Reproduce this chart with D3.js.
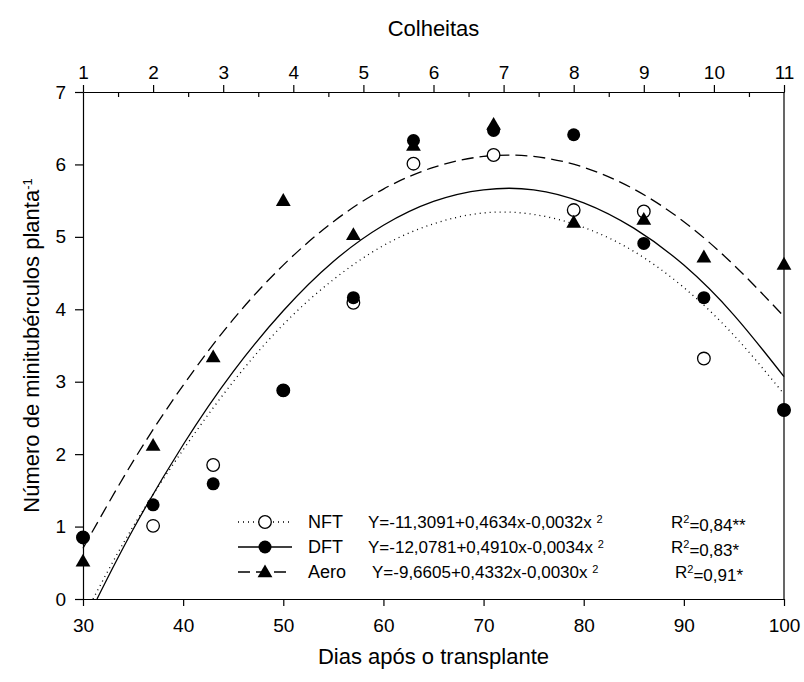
<!DOCTYPE html>
<html>
<head>
<meta charset="utf-8">
<script src="https://cdn.jsdelivr.net/npm/d3@7"></script>
<style>
  body { margin: 0; background: #fff; }
  svg { font-family: "Liberation Sans", Arial, sans-serif; }
  .axis path, .axis line { stroke: #000; stroke-width: 1.2px; }
  .axis text { fill: #000; }
</style>
</head>
<body>
<div id="chart"></div>
<script>
// measured points (dias após o transplante)
var days = [30, 37, 43, 50, 57, 63, 71, 79, 86, 92, 100];
var nftValues  = [0.85, 1.01, 1.85, 2.88, 4.09, 6.01, 6.13, 5.37, 5.35, 3.32, 2.61];
var dftValues  = [0.85, 1.30, 1.59, 2.88, 4.16, 6.33, 6.47, 6.41, 4.91, 4.16, 2.61];
var aeroValues = [0.52, 2.12, 3.34, 5.50, 5.03, 6.26, 6.55, 5.20, 5.24, 4.72, 4.62];

// fitted curves
var nftCurveX  = [31.0, 35, 40, 45, 50, 55, 60, 65, 70, 75, 80, 85, 90, 95, 100];
var nftCurveY  = [0, 1.00, 2.06, 3.00, 3.79, 4.41, 4.88, 5.18, 5.33, 5.31, 5.13, 4.80, 4.30, 3.64, 2.83];
var dftCurveX  = [31.4, 35, 40, 45, 50, 55, 60, 65, 70, 75, 80, 85, 90, 95, 100];
var dftCurveY  = [0, 0.96, 2.13, 3.14, 3.98, 4.66, 5.16, 5.49, 5.65, 5.65, 5.47, 5.12, 4.61, 3.92, 3.07];
var aeroCurveX = [30, 35, 40, 45, 50, 55, 60, 65, 70, 75, 80, 85, 90, 95, 100];
var aeroCurveY = [0.70, 1.90, 2.95, 3.86, 4.61, 5.21, 5.66, 5.96, 6.11, 6.11, 5.96, 5.66, 5.21, 4.61, 3.90];

var xTicks = [30, 40, 50, 60, 70, 80, 90, 100];
var yTicks = [0, 1, 2, 3, 4, 5, 6, 7];
var colheitas = [1, 2, 3, 4, 5, 6, 7, 8, 9, 10, 11];
var colheitasMinor = [1.5, 2.5, 3.5, 4.5, 5.5, 6.5, 7.5, 8.5, 9.5, 10.5];

var seriesNames = ["NFT", "DFT", "Aero"];
var equations = ["Y=-11,3091+0,4634x-0,0032x", "Y=-12,0781+0,4910x-0,0034x", "Y=-9,6605+0,4332x-0,0030x"];
var r2Values = ["=0,84**", "=0,83*", "=0,91*"];

var W = 804, H = 682;
var margin = {top: 92, right: 20, bottom: 83, left: 83};
var w = W - margin.left - margin.right;
var h = H - margin.top - margin.bottom;

var svg = d3.select("#chart").append("svg")
    .attr("width", W)
    .attr("height", H);

var g = svg.append("g")
    .attr("transform", "translate(" + margin.left + "," + margin.top + ")");

var x = d3.scaleLinear().domain([30, 100]).range([0, w]);
var xTop = d3.scaleLinear().domain([1, 11]).range([0, w]);
var y = d3.scaleLinear().domain([0, 7]).range([h, 0]);

// axes
g.append("g").attr("class", "axis")
    .attr("transform", "translate(0," + h + ")")
    .call(d3.axisBottom(x).tickValues(xTicks).tickSize(7).tickPadding(13).tickSizeOuter(0))
    .selectAll("text").style("font-size", "19px");

g.append("g").attr("class", "axis")
    .call(d3.axisLeft(y).tickValues(yTicks).tickFormat(d3.format("d")).tickSize(8).tickPadding(9).tickSizeOuter(0))
    .selectAll("text").style("font-size", "19px");

g.append("g").attr("class", "axis")
    .call(d3.axisTop(xTop).tickValues(colheitas).tickFormat(d3.format("d")).tickSize(7).tickPadding(6).tickSizeOuter(0))
    .selectAll("text").style("font-size", "19px");

g.append("g").attr("class", "axis")
    .call(d3.axisTop(xTop).tickValues(colheitasMinor).tickSize(-5).tickFormat("").tickSizeOuter(0));

g.append("line")
    .attr("x1", w).attr("x2", w).attr("y1", 0).attr("y2", h)
    .style("stroke", "#000").style("stroke-width", "1.2px");

// fitted curves
var line = d3.line()
    .x(function(d) { return x(d[0]); })
    .y(function(d) { return y(d[1]); })
    .curve(d3.curveNatural);

var curves = [
    {xs: nftCurveX, ys: nftCurveY, dash: "1,4", width: 1.3},
    {xs: dftCurveX, ys: dftCurveY, dash: null, width: 1.3},
    {xs: aeroCurveX, ys: aeroCurveY, dash: "12,6", width: 1.3}
];

curves.forEach(function(c) {
    g.append("path")
        .datum(d3.zip(c.xs, c.ys))
        .attr("d", line)
        .style("fill", "none")
        .style("stroke", "#000")
        .style("stroke-width", c.width)
        .style("stroke-dasharray", c.dash);
});

// markers
var tri = d3.symbol().type(d3.symbolTriangle).size(95);

function drawMarker(sel, kind) {
    if (kind === "open") {
        sel.append("circle").attr("r", 6.3)
            .style("fill", "#fff").style("stroke", "#000").style("stroke-width", 1.3);
    } else if (kind === "filled") {
        sel.append("circle").attr("r", 6.5).style("fill", "#000");
    } else {
        sel.append("path").attr("d", tri).attr("transform", "translate(0,1)").style("fill", "#000");
    }
}

var pointSets = [
    {vals: nftValues, kind: "open"},
    {vals: dftValues, kind: "filled"},
    {vals: aeroValues, kind: "tri"}
];

pointSets.forEach(function(s) {
    g.selectAll(null)
        .data(d3.zip(days, s.vals))
        .enter().append("g")
        .attr("transform", function(d) { return "translate(" + x(d[0]) + "," + y(d[1]) + ")"; })
        .each(function() { drawMarker(d3.select(this), s.kind); });
});

// legend
var legendRows = [522, 547, 572];
var eqX = [368, 368, 372];
var r2X = [671, 671, 675];
var dashes = ["1,4", null, "12,6"];
var kinds = ["open", "filled", "tri"];

seriesNames.forEach(function(name, i) {
    var ly = legendRows[i];
    svg.append("line")
        .attr("x1", 238).attr("x2", 292).attr("y1", ly).attr("y2", ly)
        .style("stroke", "#000").style("stroke-width", 1.3)
        .style("stroke-dasharray", dashes[i]);
    var m = svg.append("g").attr("transform", "translate(265," + ly + ")");
    drawMarker(m, kinds[i]);

    svg.append("text")
        .attr("x", 308).attr("y", ly).attr("dy", "0.36em")
        .style("font-size", "18px")
        .text(name);

    var eq = svg.append("text")
        .attr("x", eqX[i]).attr("y", ly).attr("dy", "0.36em")
        .style("font-size", "17px");
    eq.append("tspan").text(equations[i] + " ");
    eq.append("tspan").attr("dy", "-0.45em").style("font-size", "11px").text("2");

    var r2 = svg.append("text")
        .attr("x", r2X[i]).attr("y", ly).attr("dy", "0.36em")
        .style("font-size", "17px");
    r2.append("tspan").text("R");
    r2.append("tspan").attr("dy", "-0.45em").style("font-size", "11px").text("2");
    r2.append("tspan").attr("dy", "0.45em").text(r2Values[i]);
});

// axis titles
svg.append("text")
    .attr("x", margin.left + w / 2).attr("y", 28).attr("dy", "0.35em")
    .attr("text-anchor", "middle")
    .style("font-size", "22px")
    .text("Colheitas");

svg.append("text")
    .attr("x", margin.left + w / 2).attr("y", 656).attr("dy", "0.35em")
    .attr("text-anchor", "middle")
    .style("font-size", "22px")
    .text("Dias após o transplante");

var yl = svg.append("text")
    .attr("text-anchor", "middle")
    .attr("transform", "translate(31," + (margin.top + h / 2) + ") rotate(-90)")
    .attr("dy", "0.35em")
    .style("font-size", "22px");
yl.append("tspan").text("Número de minitubérculos planta");
yl.append("tspan").attr("dy", "-0.5em").style("font-size", "13px").text("-1");
</script>
</body>
</html>
